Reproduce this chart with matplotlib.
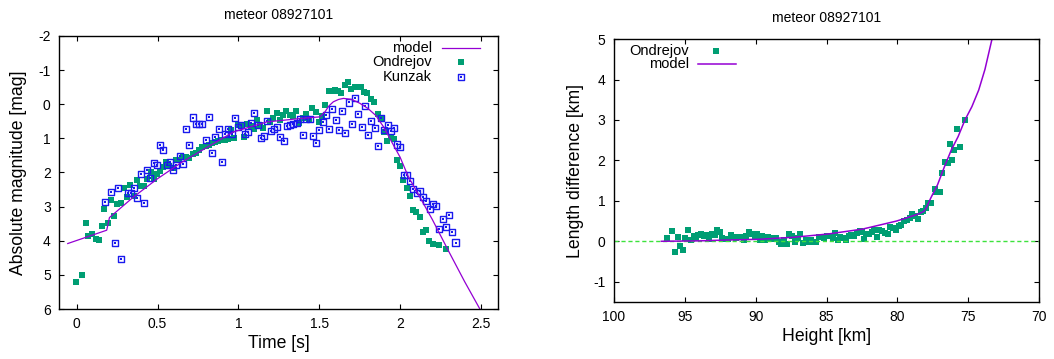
import numpy as np
import matplotlib
matplotlib.use("Agg")
import matplotlib.pyplot as plt
from matplotlib.ticker import FuncFormatter

plt.rcParams['font.family'] = ['Liberation Sans', 'DejaVu Sans']
plt.rcParams['axes.unicode_minus'] = False

title = "meteor 08927101"

# --- left panel: light curve ---
t_ond = [-0.006, 0.035, 0.054, 0.072, 0.097, 0.117, 0.136, 0.155, 0.171, 0.196,
         0.214, 0.233, 0.251, 0.276, 0.295, 0.313, 0.332, 0.354, 0.375, 0.394,
         0.414, 0.435, 0.458, 0.476, 0.495, 0.515, 0.534, 0.552, 0.573, 0.594,
         0.614, 0.635, 0.655, 0.676, 0.697, 0.717, 0.738, 0.758, 0.777, 0.798,
         0.818, 0.837, 0.857, 0.876, 0.897, 0.915, 0.936, 0.956, 0.975, 0.995,
         1.016, 1.037, 1.055, 1.076, 1.096, 1.117, 1.136, 1.154, 1.177, 1.197,
         1.216, 1.237, 1.257, 1.276, 1.296, 1.317, 1.336, 1.356, 1.377, 1.397,
         1.418, 1.436, 1.457, 1.478, 1.496, 1.515, 1.537, 1.558, 1.577, 1.595,
         1.616, 1.636, 1.659, 1.680, 1.698, 1.719, 1.737, 1.758, 1.779, 1.797,
         1.822, 1.840, 1.861, 1.882, 1.900, 1.921, 1.941, 1.962, 1.981, 2.001,
         2.020, 2.040, 2.061, 2.082, 2.100, 2.121, 2.141, 2.162, 2.180, 2.201,
         2.240, 2.282]
mag_ond = [5.22, 5.01, 3.48, 3.86, 3.81, 3.95, 3.98, 3.57, 3.08, 3.48,
           2.81, 3.26, 2.93, 2.88, 2.44, 2.73, 2.38, 2.68, 2.23, 2.39,
           2.39, 2.18, 2.00, 2.19, 2.03, 1.95, 1.84, 1.68, 1.80, 1.87,
           1.62, 1.63, 1.56, 1.54, 1.58, 1.47, 1.42, 1.35, 1.25, 1.23,
           1.19, 1.15, 1.11, 1.07, 1.05, 1.05, 1.01, 0.76, 1.00, 0.60,
           0.62, 0.96, 0.59, 0.64, 0.73, 0.47, 0.60, 0.69, 0.21, 0.53,
           0.41, 0.27, 0.45, 0.33, 0.19, 0.32, 0.35, 0.19, 0.55, 0.41,
           0.28, 0.43, 0.10, 0.24, 0.53, 0.35, 0.01, -0.40, -0.38, -0.42,
           -0.40, -0.34, -0.55, -0.64, -0.44, -0.49, -0.49, -0.49, -0.36, -0.32,
           -0.14, -0.06, 0.29, 0.39, 0.82, 1.09, 0.97, 1.02, 1.64, 1.81,
           2.23, 2.44, 2.70, 3.11, 3.17, 3.29, 3.74, 3.69, 4.02, 4.08,
           4.11, 4.24]

t_kun = [0.175, 0.214, 0.237, 0.256, 0.276, 0.315, 0.334, 0.354, 0.375, 0.396,
         0.416, 0.435, 0.455, 0.476, 0.497, 0.517, 0.536, 0.556, 0.577, 0.596,
         0.616, 0.637, 0.657, 0.676, 0.697, 0.717, 0.736, 0.756, 0.777, 0.798,
         0.818, 0.837, 0.857, 0.878, 0.897, 0.917, 0.938, 0.958, 0.977, 0.998,
         1.018, 1.039, 1.059, 1.078, 1.099, 1.119, 1.138, 1.158, 1.179, 1.199,
         1.218, 1.239, 1.260, 1.280, 1.298, 1.319, 1.340, 1.360, 1.379, 1.399,
         1.420, 1.441, 1.459, 1.480, 1.500, 1.521, 1.542, 1.560, 1.581, 1.601,
         1.622, 1.641, 1.661, 1.682, 1.702, 1.721, 1.742, 1.762, 1.781, 1.801,
         1.822, 1.843, 1.861, 1.882, 1.902, 1.923, 1.941, 1.962, 1.983, 2.001,
         2.022, 2.042, 2.061, 2.082, 2.102, 2.123, 2.141, 2.162, 2.183, 2.203,
         2.222, 2.242, 2.263, 2.284, 2.304, 2.323, 2.343]
mag_kun = [2.87, 2.58, 4.06, 2.46, 4.53, 2.60, 2.59, 2.46, 2.74, 2.04,
           2.88, 1.92, 2.16, 1.73, 1.78, 1.19, 1.34, 1.78, 1.68, 1.94,
           1.78, 1.51, 1.74, 0.73, 1.20, 0.39, 0.58, 0.58, 0.58, 1.05,
           0.37, 1.43, 0.97, 0.72, 1.68, 0.86, 0.72, 0.87, 0.40, 0.67,
           0.61, 0.87, 0.82, 0.54, 0.25, 0.62, 1.00, 0.93, 0.48, 0.79,
           0.72, 0.68, 0.96, 1.08, 0.64, 0.60, 0.59, 0.55, 0.42, 0.90,
           0.42, 0.42, 0.93, 1.13, 0.76, 0.51, 0.31, 0.73, 0.13, 0.47,
           0.76, 0.19, 0.84, -0.05, 0.59, -0.18, 0.29, 0.67, 0.05, 0.89,
           0.50, 0.69, 1.22, 0.40, 0.76, 0.61, 0.79, 0.69, 1.18, 1.26,
           2.06, 2.08, 2.25, 2.47, 2.60, 2.53, 2.71, 2.84, 3.06, 2.91,
           2.98, 3.65, 3.37, 3.59, 3.24, 3.73, 4.05]

t_model = [-0.056, 0.185, 0.202, 0.35, 0.5, 0.65, 0.8, 0.97, 1.175, 1.38, 1.505,
           1.536, 1.56, 1.587, 1.62, 1.65, 1.70, 1.75, 1.80, 1.85, 1.90, 1.95,
           2.0, 2.05, 2.1, 2.2, 2.3, 2.4, 2.5, 2.55]
mag_model = [4.08, 3.69, 3.32, 2.72, 2.18, 1.70, 1.28, 0.81, 0.52, 0.42, 0.37,
             0.22, 0.05, -0.07, -0.14, -0.17, -0.14, -0.03, 0.12, 0.33, 0.68, 1.12,
             1.55, 2.11, 2.53, 3.38, 4.30, 5.20, 6.05, 6.5]

# --- right panel: length difference ---
h_ond = [96.23, 95.87, 95.68, 95.46, 95.32, 95.12, 94.96, 94.76, 94.57, 94.38,
         94.21, 94.06, 93.84, 93.65, 93.46, 93.27, 93.07, 92.86, 92.71, 92.54,
         92.35, 92.16, 91.96, 91.77, 91.60, 91.41, 91.21, 91.05, 90.85, 90.66,
         90.47, 90.27, 90.08, 89.89, 89.72, 89.52, 89.33, 89.14, 88.95, 88.75,
         88.56, 88.37, 88.20, 88.00, 87.81, 87.62, 87.42, 87.23, 87.04, 86.87,
         86.68, 86.48, 86.29, 86.10, 85.90, 85.71, 85.52, 85.35, 85.16, 84.96,
         84.77, 84.58, 84.38, 84.19, 84.02, 83.83, 83.63, 83.44, 83.25, 83.06,
         82.86, 82.67, 82.50, 82.36, 82.19, 82.02, 81.82, 81.63, 81.44, 81.27,
         81.08, 80.88, 80.69, 80.50, 80.30, 80.11, 79.92, 79.72, 79.53, 79.34,
         79.14, 78.95, 78.78, 78.57, 78.35, 78.18, 77.99, 77.87, 77.62, 77.38,
         77.26, 77.02, 76.88, 76.66, 76.47, 76.32, 76.15, 76.01, 75.79, 75.62,
         75.21]
dl_ond = [0.07, 0.25, -0.26, 0.11, -0.12, -0.21, 0.07, 0.28, 0.02, 0.12,
          0.09, 0.16, 0.18, 0.12, 0.15, 0.05, 0.18, 0.16, 0.28, 0.22,
          0.09, 0.06, 0.06, 0.15, 0.11, 0.07, 0.11, 0.11, 0.02, 0.12,
          0.22, 0.18, 0.12, 0.18, 0.04, 0.12, 0.02, 0.11, 0.07, 0.05,
          0.09, -0.03, -0.06, 0.04, -0.06, 0.18, 0.14, -0.03, 0.07, 0.17,
          -0.04, 0.02, -0.01, 0.04, -0.03, -0.03, 0.11, 0.11, 0.07, 0.12,
          0.14, 0.09, 0.21, 0.02, 0.11, 0.07, 0.02, 0.12, 0.16, 0.12,
          0.21, 0.25, 0.24, 0.05, 0.17, 0.17, 0.24, 0.29, 0.11, 0.27,
          0.26, 0.21, 0.19, 0.35, 0.34, 0.27, 0.37, 0.40, 0.49, 0.53,
          0.57, 0.67, 0.63, 0.56, 0.72, 0.76, 0.83, 0.95, 0.95, 1.29,
          1.22, 1.22, 1.69, 1.96, 1.93, 2.40, 2.01, 2.25, 2.78, 2.33,
          2.99]

h_model = [96.65, 94.0, 92.13, 89.72, 87.30, 84.89, 82.48, 81.27, 80.07, 79.34,
           78.49, 78.13, 77.95, 77.65, 77.17, 76.68, 76.20, 75.72, 75.24, 74.75,
           74.27, 73.83, 73.3, 73.0]
dl_model = [0.0, 0.01, 0.03, 0.05, 0.10, 0.18, 0.30, 0.40, 0.50, 0.58,
            0.68, 0.74, 0.84, 1.07, 1.40, 1.85, 2.26, 2.59, 3.0, 3.33,
            3.74, 4.25, 5.05, 5.5]

c_model = '#9400d3'
c_ond = '#009e73'
c_kun = '#1a1aee'

fmt = FuncFormatter(lambda v, p: '%g' % v)

fig = plt.figure(figsize=(10.54, 3.59), dpi=100)
ax1 = fig.add_axes([0.056, 0.139, 0.4165, 0.761])
ax2 = fig.add_axes([0.5824, 0.159, 0.4036, 0.732])

for ax, ty in ((ax1, 1.077), (ax2, 1.080)):
    ax.tick_params(direction='in', top=True, right=True, length=3.5, width=0.8,
                   labelsize=10, pad=6)
    for s in ax.spines.values():
        s.set_linewidth(1.0)
    ax.xaxis.set_major_formatter(fmt)
    ax.yaxis.set_major_formatter(fmt)
    ax.text(0.5, ty, title, transform=ax.transAxes, ha='center', va='center',
            fontsize=10)

ms_fill = 17
ms_open = 19

# left
ax1.plot(t_model, mag_model, color=c_model, lw=0.9)
ax1.scatter(t_ond, mag_ond, marker='s', s=ms_fill, color=c_ond, lw=0)
ax1.scatter(t_kun, mag_kun, marker='s', s=ms_open, facecolors='none',
            edgecolors=c_kun, linewidths=1.0)
ax1.scatter(t_kun, mag_kun, marker='s', s=1.5, color=c_kun, lw=0)
ax1.set_xlim(-0.11, 2.606)
ax1.set_ylim(6, -2)
ax1.set_xticks([0, 0.5, 1, 1.5, 2, 2.5])
ax1.set_yticks(range(-2, 7))
ax1.set_xlabel("Time [s]", fontsize=12.7)
ax1.set_ylabel("Absolute magnitude [mag]", fontsize=12.7)
ax1.xaxis.set_label_coords(0.5, -0.095)
ax1.yaxis.set_label_coords(-0.072, 0.5)

# left legend (gnuplot style, text right-justified)
tr = ax1.transAxes
ax1.text(0.850, 0.955, "model", transform=tr, ha='right', va='center', fontsize=10.5)
ax1.plot([0.872, 0.959], [0.955, 0.955], transform=tr, color=c_model, lw=0.9)
ax1.text(0.850, 0.904, "Ondrejov", transform=tr, ha='right', va='center', fontsize=10.5)
ax1.scatter([0.915], [0.904], transform=tr, marker='s', s=ms_fill, color=c_ond, lw=0)
ax1.text(0.850, 0.850, "Kunzak", transform=tr, ha='right', va='center', fontsize=10.5)
ax1.scatter([0.915], [0.850], transform=tr, marker='s', s=ms_open, facecolors='none',
            edgecolors=c_kun, linewidths=1.0)
ax1.scatter([0.915], [0.850], transform=tr, marker='s', s=1.5, color=c_kun, lw=0)

# right
ax2.axhline(0, color='#3de23d', lw=1.0, dashes=(3, 2))
ax2.scatter(h_ond, dl_ond, marker='s', s=ms_fill, color=c_ond, lw=0)
ax2.plot(h_model, dl_model, color=c_model, lw=1.1)
ax2.set_xlim(100, 70)
ax2.set_ylim(-1.5, 5)
ax2.set_xticks(range(100, 69, -5))
ax2.set_yticks(range(-1, 6))
ax2.set_xlabel("Height [km]", fontsize=12.7)
ax2.set_ylabel("Length difference [km]", fontsize=12.7)
ax2.xaxis.set_label_coords(0.5, -0.099)
ax2.yaxis.set_label_coords(-0.071, 0.5)

tr = ax2.transAxes
ax2.text(0.176, 0.956, "Ondrejov", transform=tr, ha='right', va='center', fontsize=10.5)
ax2.scatter([0.241], [0.956], transform=tr, marker='s', s=ms_fill, color=c_ond, lw=0)
ax2.text(0.176, 0.904, "model", transform=tr, ha='right', va='center', fontsize=10.5)
ax2.plot([0.198, 0.286], [0.904, 0.904], transform=tr, color=c_model, lw=1.1)

fig.savefig("out.png", dpi=100)
